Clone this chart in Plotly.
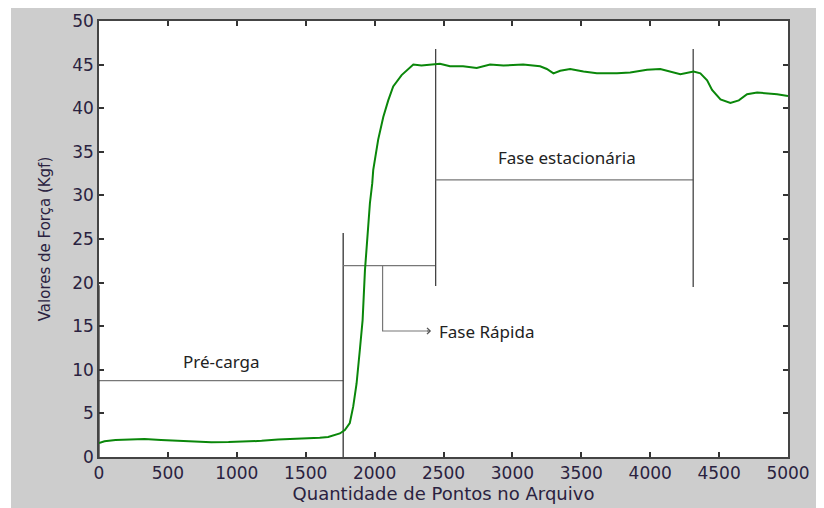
import plotly.graph_objects as go

# Force curve
pontos = [0, 40, 120, 210, 330, 450, 573, 700, 815, 940, 1057, 1180, 1300, 1420, 1542, 1602, 1663,
          1735, 1748, 1784, 1820, 1845, 1869, 1893, 1913, 1930, 1949, 1966, 1983, 1990, 2026, 2063,
          2099, 2135, 2196, 2256, 2281, 2340, 2402, 2474, 2547, 2642, 2741, 2838, 2935, 3078, 3201,
          3250, 3298, 3347, 3419, 3516, 3613, 3759, 3855, 3977, 4073, 4146, 4219, 4315, 4364, 4413,
          4449, 4510, 4582, 4643, 4703, 4776, 4849, 4921, 5000]
forca = [1.6, 1.8, 1.95, 2.0, 2.05, 1.95, 1.87, 1.8, 1.7, 1.72, 1.75, 1.85, 2.0, 2.05, 2.1, 2.2, 2.3,
         2.6, 2.7, 3.1, 3.9, 5.8, 8.4, 12.3, 15.7, 21.4, 25.3, 29.1, 31.4, 32.9, 36.4, 39.0,
         40.9, 42.5, 43.8, 44.6, 45.0, 44.9, 45.0, 45.1, 44.8, 44.8, 44.6, 45.0, 44.9, 45.0, 44.8,
         44.5, 44.0, 44.3, 44.5, 44.2, 44.0, 44.0, 44.1, 44.4, 44.5, 44.2, 43.9, 44.2, 44.0, 43.2,
         42.1, 41.0, 40.6, 40.9, 41.6, 41.8, 41.7, 41.6, 41.4]

# Annotation segments (phase markers)
seg_x = [[0, 1772], [1772, 1772], [0, 0],
         [1772, 2443], [2443, 2443],
         [2443, 4312], [4312, 4312]]
seg_y = [[8.75, 8.75], [0, 25.7], [0, 19.7],
         [21.95, 21.95], [19.6, 46.8],
         [31.77, 31.77], [19.5, 46.8]]
seg_cor = ["#777", "#333", "#333", "#777", "#444", "#777", "#444"]
seta_x = [2058, 2058, 2390]
seta_y = [21.95, 14.45, 14.45]

rotulos = ["Pré-carga", "Fase Rápida", "Fase estacionária"]
rotulo_x = [892, 2450, 3398]
rotulo_y = [10.9, 14.45, 34.3]
rotulo_anc = ["center", "left", "center"]

x_ticks = [0, 500, 1000, 1500, 2000, 2500, 3000, 3500, 4000, 4500, 5000]
y_ticks = [0, 5, 10, 15, 20, 25, 30, 35, 40, 45, 50]

fig = go.Figure()
for sx, sy, c in zip(seg_x, seg_y, seg_cor):
    fig.add_trace(go.Scatter(x=sx, y=sy, mode="lines", line=dict(color=c, width=1.3),
                             showlegend=False, hoverinfo="skip"))
fig.add_trace(go.Scatter(x=seta_x, y=seta_y, mode="lines", line=dict(color="#777", width=1.2),
                         showlegend=False, hoverinfo="skip"))
fig.add_trace(go.Scatter(x=pontos, y=forca, mode="lines", line=dict(color="#0a870a", width=2),
                         showlegend=False))

# arrow head
fig.add_annotation(x=seta_x[-1] + 20, y=seta_y[-1], ax=seta_x[-1] - 20, ay=seta_y[-1],
                   xref="x", yref="y", axref="x", ayref="y", text="", showarrow=True,
                   arrowhead=4, arrowsize=1, arrowwidth=1.2, arrowcolor="#555")

for t, x, y, a in zip(rotulos, rotulo_x, rotulo_y, rotulo_anc):
    fig.add_annotation(x=x, y=y, text=t, showarrow=False, xanchor=a, yanchor="middle",
                       font=dict(family="Noto Sans", size=17, color="#222"))

# figure-window style white strip at left
fig.add_shape(type="rect", xref="paper", yref="paper", x0=-0.3, x1=-0.1277, y0=-0.3, y1=1.3,
              fillcolor="white", line_width=0, layer="below")

axis_common = dict(showgrid=False, zeroline=False, showline=True, linecolor="#444", linewidth=1.5,
                   mirror="ticks", ticks="inside", ticklen=5, tickwidth=1.5, tickcolor="#333",
                   automargin=False,
                   tickfont=dict(family="DejaVu Sans", size=17, color="#2a2240"))

fig.update_xaxes(range=[0, 5000], tickvals=x_ticks, **axis_common,
                 title=dict(text="Quantidade de Pontos no Arquivo", standoff=3,
                            font=dict(family="DejaVu Sans", size=18, color="#2a2240")))
fig.update_yaxes(range=[0, 50], tickvals=y_ticks, **axis_common,
                 title=dict(text="Valores de Força (Kgf)", standoff=18,
                            font=dict(family="DejaVu Sans", size=15, color="#2a2240")))

fig.update_layout(width=816, height=500, margin=dict(l=91, r=36, t=13, b=51, autoexpand=False),
                  paper_bgcolor="#cdcdcd", plot_bgcolor="white")

fig.write_html("out.html")
